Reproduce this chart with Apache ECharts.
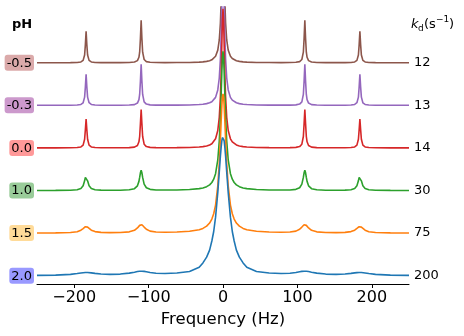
<!DOCTYPE html>
<html>
<head>
<meta charset="utf-8">
<script src="https://cdn.jsdelivr.net/npm/echarts@6/dist/echarts.min.js"></script>
<style>
  html, body { margin: 0; padding: 0; background: #fff; }
  #main { width: 464px; height: 336px; }
</style>
</head>
<body>
<div id="main"></div>
<script>
// frequency axis (Hz), denser around the peaks
var freq = [-250, -225, -205, -196, -191, -188, -186, -185, -184, -183, -182, -180, -177, -172, -164, -152, -138, -126, -119, -115, -113, -112, -111, -110, -109, -108, -106, -103, -98, -90, -78, -62, -45, -32, -27, -22, -18, -15, -12.5, -10, -7, -5, -3.5, -2.5, -1.5, -0.8,
  0,
  0.8, 1.5, 2.5, 3.5, 5, 7, 10, 12.5, 15, 18, 22, 27, 32, 45, 62, 78, 90, 98, 103, 106, 108, 109, 110, 111, 112, 113, 115, 119, 126, 138, 152, 164, 172, 177, 180, 182, 183, 184, 185, 186, 188, 191, 196, 205, 225, 250];

var phLabels = ['2.0', '1.5', '1.0', '0.0', '-0.3', '-0.5'];
var kdLabels = ['200', '75', '30', '14', '13', '12'];
var xTicks = [-200, -100, 0, 100, 200];

// spectra, one per pH (intensity; central peak ~3.27, trace spacing = 1)
var specPh20 = [0.008, 0.014, 0.031, 0.050, 0.063, 0.070, 0.074, 0.074, 0.075, 0.075, 0.074, 0.072, 0.066, 0.054, 0.039, 0.032, 0.038, 0.060, 0.083, 0.097, 0.102, 0.104, 0.105, 0.106, 0.105, 0.105, 0.101, 0.093, 0.076, 0.059, 0.053, 0.062, 0.097, 0.196, 0.300, 0.435, 0.601, 0.815, 1.038, 1.375, 1.955, 2.435, 2.805, 3.015, 3.175, 3.245,
  3.275,
  3.245, 3.175, 3.015, 2.805, 2.435, 1.955, 1.375, 1.038, 0.815, 0.601, 0.435, 0.300, 0.196, 0.097, 0.062, 0.053, 0.059, 0.076, 0.093, 0.101, 0.105, 0.105, 0.106, 0.105, 0.104, 0.102, 0.097, 0.083, 0.060, 0.038, 0.032, 0.039, 0.054, 0.066, 0.072, 0.074, 0.075, 0.075, 0.074, 0.074, 0.070, 0.063, 0.050, 0.031, 0.014, 0.008];
var specPh15 = [0.003, 0.005, 0.014, 0.033, 0.068, 0.108, 0.140, 0.151, 0.155, 0.151, 0.140, 0.109, 0.068, 0.035, 0.018, 0.012, 0.015, 0.030, 0.066, 0.122, 0.163, 0.182, 0.197, 0.202, 0.197, 0.183, 0.142, 0.090, 0.047, 0.025, 0.021, 0.025, 0.042, 0.080, 0.111, 0.163, 0.237, 0.330, 0.454, 0.658, 1.110, 1.642, 2.203, 2.626, 3.011, 3.200,
  3.272,
  3.200, 3.011, 2.626, 2.203, 1.642, 1.110, 0.658, 0.454, 0.330, 0.237, 0.163, 0.111, 0.080, 0.042, 0.025, 0.021, 0.025, 0.047, 0.090, 0.142, 0.183, 0.197, 0.202, 0.197, 0.182, 0.163, 0.122, 0.066, 0.030, 0.015, 0.012, 0.018, 0.035, 0.068, 0.109, 0.140, 0.151, 0.155, 0.151, 0.140, 0.108, 0.068, 0.033, 0.014, 0.005, 0.003];
var specPh10 = [0.002, 0.003, 0.007, 0.019, 0.047, 0.111, 0.228, 0.310, 0.352, 0.310, 0.228, 0.112, 0.047, 0.019, 0.009, 0.006, 0.008, 0.017, 0.043, 0.110, 0.215, 0.308, 0.417, 0.474, 0.417, 0.308, 0.151, 0.065, 0.028, 0.014, 0.011, 0.013, 0.023, 0.044, 0.061, 0.091, 0.134, 0.189, 0.266, 0.396, 0.718, 1.162, 1.731, 2.250, 2.812, 3.126,
  3.271,
  3.126, 2.812, 2.250, 1.731, 1.162, 0.718, 0.396, 0.266, 0.189, 0.134, 0.091, 0.061, 0.044, 0.023, 0.013, 0.011, 0.014, 0.028, 0.065, 0.151, 0.308, 0.417, 0.474, 0.417, 0.308, 0.215, 0.110, 0.043, 0.017, 0.008, 0.006, 0.009, 0.019, 0.047, 0.112, 0.228, 0.310, 0.352, 0.310, 0.228, 0.111, 0.047, 0.019, 0.007, 0.003, 0.002];
var specPh00 = [0.001, 0.001, 0.003, 0.009, 0.023, 0.066, 0.203, 0.428, 0.681, 0.428, 0.203, 0.066, 0.024, 0.009, 0.004, 0.003, 0.004, 0.008, 0.020, 0.059, 0.144, 0.269, 0.567, 0.902, 0.567, 0.269, 0.088, 0.032, 0.013, 0.007, 0.005, 0.007, 0.012, 0.023, 0.031, 0.047, 0.070, 0.099, 0.141, 0.215, 0.410, 0.718, 1.193, 1.732, 2.478, 2.999,
  3.27,
  2.999, 2.478, 1.732, 1.193, 0.718, 0.410, 0.215, 0.141, 0.099, 0.070, 0.047, 0.031, 0.023, 0.012, 0.007, 0.005, 0.007, 0.013, 0.032, 0.088, 0.269, 0.567, 0.902, 0.567, 0.269, 0.144, 0.059, 0.020, 0.008, 0.004, 0.003, 0.004, 0.009, 0.024, 0.066, 0.203, 0.428, 0.681, 0.428, 0.203, 0.066, 0.023, 0.009, 0.003, 0.001, 0.001];
var specPhM03 = [0.001, 0.001, 0.003, 0.008, 0.022, 0.061, 0.194, 0.431, 0.731, 0.431, 0.194, 0.062, 0.022, 0.008, 0.004, 0.003, 0.003, 0.007, 0.018, 0.054, 0.134, 0.256, 0.568, 0.962, 0.568, 0.256, 0.082, 0.030, 0.012, 0.006, 0.005, 0.006, 0.010, 0.020, 0.027, 0.041, 0.061, 0.087, 0.123, 0.188, 0.363, 0.643, 1.089, 1.617, 2.389, 2.959,
  3.27,
  2.959, 2.389, 1.617, 1.089, 0.643, 0.363, 0.188, 0.123, 0.087, 0.061, 0.041, 0.027, 0.020, 0.010, 0.006, 0.005, 0.006, 0.012, 0.030, 0.082, 0.256, 0.568, 0.962, 0.568, 0.256, 0.134, 0.054, 0.018, 0.007, 0.003, 0.003, 0.004, 0.008, 0.022, 0.062, 0.194, 0.431, 0.731, 0.431, 0.194, 0.061, 0.022, 0.008, 0.003, 0.001, 0.001];
var specPhM05 = [0, 0.001, 0.003, 0.007, 0.020, 0.057, 0.184, 0.421, 0.741, 0.421, 0.184, 0.057, 0.020, 0.008, 0.003, 0.003, 0.003, 0.006, 0.017, 0.051, 0.129, 0.249, 0.570, 1.001, 0.570, 0.249, 0.077, 0.028, 0.011, 0.005, 0.004, 0.005, 0.008, 0.016, 0.022, 0.033, 0.049, 0.070, 0.100, 0.153, 0.297, 0.536, 0.934, 1.437, 2.241, 2.892,
  3.27,
  2.892, 2.241, 1.437, 0.934, 0.536, 0.297, 0.153, 0.100, 0.070, 0.049, 0.033, 0.022, 0.016, 0.008, 0.005, 0.004, 0.005, 0.011, 0.028, 0.077, 0.249, 0.570, 1.001, 0.570, 0.249, 0.129, 0.051, 0.017, 0.006, 0.003, 0.003, 0.003, 0.008, 0.020, 0.057, 0.184, 0.421, 0.741, 0.421, 0.184, 0.057, 0.020, 0.007, 0.003, 0.001, 0];

var spectra = [specPh20, specPh15, specPh10, specPh00, specPhM03, specPhM05];
var offsets = [0, 1, 2, 3, 4, 5]; // vertical stacking
var lineColors = ['#1f77b4', '#ff7f0e', '#2ca02c', '#d62728', '#9467bd', '#8c564b'];
var boxColors = ['#9999ff', '#ffdb99', '#99cc99', '#ff9999', '#cc99cc', '#dbaaaa'];

var FONT = 'DejaVu Sans';
var chart = echarts.init(document.getElementById('main'), null, { renderer: 'canvas' });

var rich = {};
boxColors.forEach(function (c, i) {
  rich['b' + i] = {
    backgroundColor: c,
    borderRadius: 3,
    padding: [2, 2, 1, 2],
    fontSize: 13,
    fontFamily: FONT,
    color: '#000'
  };
});

var series = [];
for (var i = spectra.length - 1; i >= 0; i--) {
  var spec = spectra[i];
  var off = offsets[i];
  series.push({
    name: phLabels[i],
    type: 'line',
    data: freq.map(function (f, j) { return [f, spec[j] + off]; }),
    showSymbol: false,
    smooth: false,
    clip: true,
    lineStyle: { color: lineColors[i], width: 1.6 },
    itemStyle: { color: lineColors[i] },
    endLabel: {
      show: true,
      formatter: kdLabels[i],
      distance: 5,
      fontSize: 13,
      fontFamily: FONT,
      color: '#000'
    }
  });
}

chart.setOption({
  animation: false,
  backgroundColor: '#fff',
  grid: {
    left: 37,
    right: 55,
    top: 7,
    bottom: 52,
    containLabel: false,
    outerBoundsMode: 'none'
  },
  xAxis: {
    type: 'value',
    min: -250,
    max: 250,
    name: 'Frequency (Hz)',
    nameLocation: 'middle',
    nameGap: 21,
    nameTextStyle: { fontSize: 16.5, color: '#000', fontFamily: FONT },
    axisLine: { onZero: false, lineStyle: { color: '#000', width: 1 } },
    axisTick: { customValues: xTicks, length: 4, lineStyle: { color: '#000', width: 1 } },
    axisLabel: {
      customValues: xTicks,
      margin: 6,
      fontSize: 16,
      fontFamily: FONT,
      color: '#000',
      formatter: function (v) { return v < 0 ? '\u2212' + Math.abs(v) : String(v); }
    },
    splitLine: { show: false }
  },
  yAxis: {
    type: 'value',
    min: -0.195,
    max: 6.31,
    axisLine: { show: false },
    axisTick: { show: false },
    splitLine: { show: false },
    axisLabel: {
      customValues: offsets,
      margin: 3,
      formatter: function (v) {
        var k = offsets.indexOf(v);
        return k < 0 ? '' : '{b' + k + '|' + phLabels[k] + '}';
      },
      rich: rich
    }
  },
  graphic: [
    { type: 'text', x: 22, y: 25, style: { text: 'pH', fontSize: 13, fontWeight: 'bold', fontFamily: FONT, fill: '#000', align: 'center', verticalAlign: 'middle' } },
    // k_d (s^-1) header, pieced together
    { type: 'text', x: 411, y: 25, style: { text: 'k', fontSize: 13, fontStyle: 'italic', fontFamily: FONT, fill: '#000', align: 'left', verticalAlign: 'middle' } },
    { type: 'text', x: 418, y: 29, style: { text: 'd', fontSize: 9, fontFamily: FONT, fill: '#000', align: 'left', verticalAlign: 'middle' } },
    { type: 'text', x: 424, y: 25, style: { text: '(s', fontSize: 13, fontFamily: FONT, fill: '#000', align: 'left', verticalAlign: 'middle' } },
    { type: 'text', x: 436, y: 20, style: { text: '\u22121', fontSize: 9, fontFamily: FONT, fill: '#000', align: 'left', verticalAlign: 'middle' } },
    { type: 'text', x: 449, y: 25, style: { text: ')', fontSize: 13, fontFamily: FONT, fill: '#000', align: 'left', verticalAlign: 'middle' } }
  ],
  series: series
});
</script>
</body>
</html>
